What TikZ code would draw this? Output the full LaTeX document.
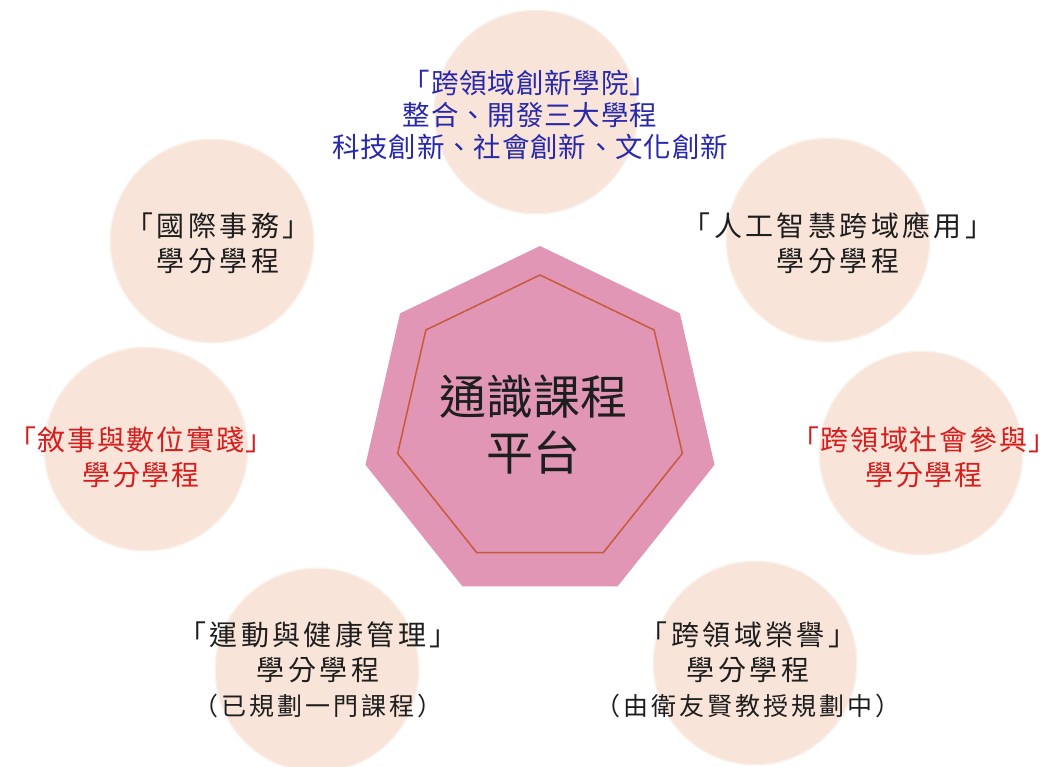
\documentclass[tikz,border=0pt]{standalone}
\usepackage{fontspec}
\newfontfamily\cjk{Noto Sans CJK TC}
\newfontfamily\cjksp[LetterSpace=12]{Noto Sans CJK TC}
\newfontfamily\cjkmid[LetterSpace=6]{Noto Sans CJK TC}
\newfontfamily\cjktop[LetterSpace=3]{Noto Sans CJK TC}
\usetikzlibrary{shapes.geometric}
\definecolor{peach}{RGB}{248,228,216}
\definecolor{hepfill}{RGB}{224,150,180}
\definecolor{hepline}{RGB}{200,90,60}
\definecolor{tblue}{RGB}{40,40,170}
\definecolor{tred}{RGB}{215,30,30}
\definecolor{tblack}{RGB}{30,30,30}
\begin{document}
\begin{tikzpicture}[x=1pt,y=-1pt,
  bubble/.style={circle, fill=peach, draw=peach, draw opacity=0.5, line width=3pt, minimum size=202pt, inner sep=0pt},
  lbl/.style={align=center, font=\cjksp\fontsize{28}{35}\selectfont, text=tblack, inner sep=0pt},
  sidelbl/.style={lbl, text=tred, font=\cjkmid\fontsize{28}{35}\selectfont},
  heptagon/.style={regular polygon, regular polygon sides=7, inner sep=0pt}
]
\useasboundingbox (0,0) rectangle (1062,766);
\fill[white] (0,0) rectangle (1062,766);

% circles
\node[bubble] (c1) at (536,112) {};
\node[bubble] (c2) at (212,241) {};
\node[bubble] (c3) at (828,240) {};
\node[bubble] (c4) at (146,449) {};
\node[bubble] (c5) at (921,453) {};
\node[bubble] (c6) at (317,670) {};
\node[bubble] (c7) at (755,663) {};

% central heptagon
\node[heptagon, minimum size=358pt, fill=hepfill] (hep) at (540,425) {};
\node[heptagon, minimum size=292pt, draw=hepline, line width=1.5pt] (hepin) at (540,421) {};
\node[align=center, font=\cjk\fontsize{47}{56}\selectfont, text=tblack, inner sep=0pt] (core) at (533,425) {通識課程\\平台};

% labels
\node[lbl, text=tblue, font=\cjktop\fontsize{27.5}{32}\selectfont] (t1) at (530,115) {「跨領域創新學院」\\整合、開發三大學程\\科技創新、社會創新、文化創新};
\node[lbl] (t2) at (218,243) {「國際事務」\\學分學程};
\node[lbl] (t3) at (838,243) {「人工智慧跨域應用」\\學分學程};
\node[sidelbl] (t4) at (141,457) {「敘事與數位實踐」\\學分學程};
\node[sidelbl] (t5) at (924,457) {「跨領域社會參與」\\學分學程};
\node[lbl] (t6) at (318,670) {「運動與健康管理」\\學分學程\\{\fontsize{25}{35}\selectfont （已規劃一門課程）}};
\node[lbl] (t7) at (748,670) {「跨領域榮譽」\\學分學程\\{\fontsize{25}{35}\selectfont （由衛友賢教授規劃中）}};
\end{tikzpicture}
\end{document}
